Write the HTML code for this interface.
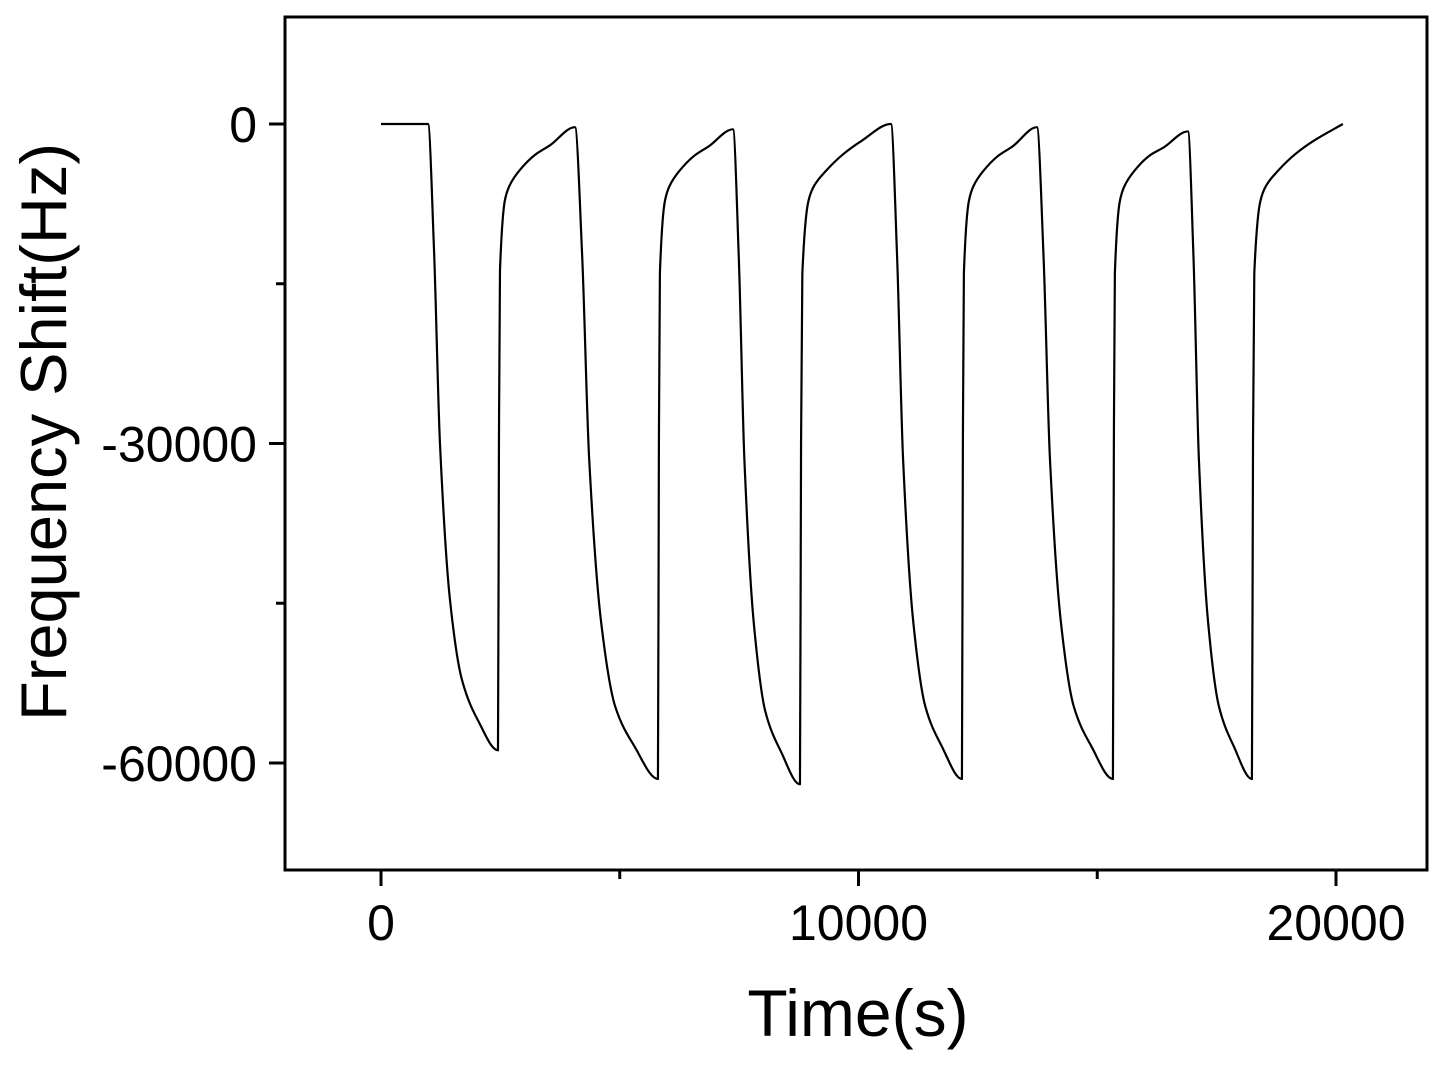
<!DOCTYPE html>
<html><head><meta charset="utf-8"><style>
html,body{margin:0;padding:0;background:#fff;}
svg{display:block;font-family:"Liberation Sans",Arial,sans-serif;}
</style></head><body>
<svg id="chart" width="1452" height="1065" viewBox="0 0 1452 1065" xmlns="http://www.w3.org/2000/svg">
<g id="axes"></g>
<path id="series" fill="none" stroke="#000" stroke-width="2.2" stroke-linejoin="round"/>
<text x="858" y="1036" font-size="66" text-anchor="middle">Time(s)</text>
<text transform="translate(66,432) rotate(-90)" font-size="65" text-anchor="middle">Frequency Shift(Hz)</text>
</svg>
<script>
const xTicks = [0, 10000, 20000];
const xMinor = [5000, 15000];
const yTicks = [0, -30000, -60000];
const yMinor = [-15000, -45000];
const times = [0,984,
 1110,1235,1445,1696,2031,2450, 2470,2492,2597,2701,2911,3225,3539,4062,
 4212,4359,4608,4905,5303,5800, 5820,5841,5943,6045,6250,6556,6862,7371,
 7492,7611,7812,8051,8373,8774, 8797,8824,8948,9070,9318,9689,10059,10679,
 10807,10933,11146,11400,11741,12166, 12186,12207,12309,12411,12616,12922,13228,13737,
 13874,14009,14237,14509,14873,15328, 15348,15369,15471,15573,15778,16084,16390,16899,
 17014,17128,17320,17549,17856,18239, 18262,18289,18413,18535,18783,19154,19524,20144];
const freqs = [0,0,
 -11800,-30000,-44700,-52200,-56000,-58800, -30000,-13700,-7100,-5700,-4300,-2900,-2000,-300,
 -12300,-31400,-46700,-54700,-58400,-61500, -30000,-14000,-7300,-5800,-4400,-3000,-2100,-500,
 -12400,-31600,-47100,-55200,-58900,-62000, -30000,-14000,-7300,-5800,-4400,-2800,-1600,0,
 -12300,-31400,-46700,-54700,-58400,-61500, -30000,-14000,-7300,-5800,-4400,-3000,-2100,-300,
 -12300,-31400,-46700,-54700,-58400,-61500, -30000,-14000,-7300,-5800,-4400,-3000,-2200,-700,
 -12300,-31400,-46700,-54700,-58400,-61500, -30000,-14000,-7300,-5800,-4400,-2800,-1600,0];

const L=285,R=1427,T=17,B=870;
const sx = v => 381 + v*(1336-381)/20000;
const sy = v => 124 + (-v)*(763-124)/60000;
const NS="http://www.w3.org/2000/svg";
const ax=document.getElementById('axes');
function mk(tag,attrs,parent){const e=document.createElementNS(NS,tag);for(const k in attrs)e.setAttribute(k,attrs[k]);(parent||ax).appendChild(e);return e;}
const frame=mk('rect',{x:L,y:T,width:R-L,height:B-T,fill:'none',stroke:'#000','stroke-width':3});


xTicks.forEach(v=>{
 const t=mk('line',{x1:sx(v),x2:sx(v),y1:B,y2:B+16,stroke:'#000','stroke-width':3});
 
 
 const l=mk('text',{x:sx(v),y:B+70,'font-size':50,'text-anchor':'middle'});
 l.textContent=v;
 
 
});
xMinor.forEach(v=>{
 const t=mk('line',{x1:sx(v),x2:sx(v),y1:B,y2:B+9,stroke:'#000','stroke-width':3});
 
 
});
yTicks.forEach(v=>{
 const t=mk('line',{x1:L-16,x2:L,y1:sy(v),y2:sy(v),stroke:'#000','stroke-width':3});
 
 
 const l=mk('text',{x:L-28,y:sy(v)+18,'font-size':50,'text-anchor':'end'});
 l.textContent=v;
 
 
});
yMinor.forEach(v=>{
 const t=mk('line',{x1:L-9,x2:L,y1:sy(v),y2:sy(v),stroke:'#000','stroke-width':3});
 
 
});
const X=times.map(sx),Y=freqs.map(sy),n=X.length;
const d=[],m=[];
for(let i=0;i<n-1;i++)d.push((Y[i+1]-Y[i])/(X[i+1]-X[i]));
m[0]=d[0];m[n-1]=d[n-2];
for(let i=1;i<n-1;i++){const a=d[i-1],b=d[i];m[i]=(a*b<=0)?0:2*a*b/(a+b);}
let p='M'+X[0]+','+Y[0];
for(let i=0;i<n-1;i++){const h=(X[i+1]-X[i])/3;
 p+=' C'+(X[i]+h)+','+(Y[i]+m[i]*h)+' '+(X[i+1]-h)+','+(Y[i+1]-m[i+1]*h)+' '+X[i+1]+','+Y[i+1];}
document.getElementById('series').setAttribute('d',p);
</script>
</body></html>
